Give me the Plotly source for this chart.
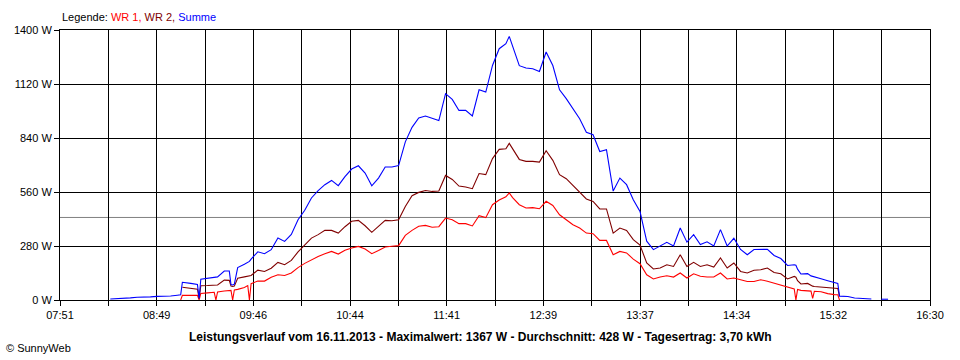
import plotly.graph_objects as go

# ---- data ----
TIMES = ["08:21","08:25","08:29","08:33","08:37","08:41","08:45","08:49","08:53","08:57",
         "09:01","09:03","09:04","09:05","09:09","09:13","09:14","09:15","09:19","09:23",
         "09:24","09:25","09:29","09:32","09:33","09:34","09:35","09:37","09:41","09:43",
         "09:44","09:45","09:49","09:53","09:57","10:01","10:05","10:09","10:13","10:17",
         "10:21","10:25","10:29","10:33","10:37","10:41","10:45","10:49","10:53","10:57",
         "11:01","11:05","11:09","11:13","11:17","11:21","11:25","11:29","11:33","11:37",
         "11:41","11:45","11:49","11:53","11:57","12:01","12:05","12:09","12:13","12:17",
         "12:19","12:21","12:25","12:29","12:33","12:37","12:41","12:45","12:49","12:53",
         "12:57","13:01","13:05","13:09","13:13","13:17","13:21","13:25","13:29","13:33",
         "13:37","13:41","13:45","13:49","13:53","13:57","14:01","14:05","14:09","14:13",
         "14:17","14:21","14:25","14:29","14:33","14:37","14:41","14:45","14:49","14:53",
         "14:57","15:01","15:05","15:09","15:10","15:11","15:13","15:17","15:19","15:20",
         "15:21","15:25","15:29","15:33","15:35","15:36","15:37","15:41","15:45","15:49",
         "15:53","15:55","15:57","16:01","16:05"]

SUMME = [5,6,8,11,14,14,16,19,19,21,
         25,27,92,90,86,80,8,108,112,116,
         118,120,150,150,80,78,82,168,185,195,
         200,212,250,240,261,322,304,340,416,465,
         529,567,598,620,593,640,679,696,658,592,
         632,690,690,697,820,895,944,954,944,930,
         1070,1040,983,983,954,1090,1078,1216,1303,1329,
         1367,1317,1215,1203,1199,1185,1286,1216,1090,1044,
         992,940,870,857,770,779,565,632,598,520,
         459,305,261,278,299,280,373,300,339,288,
         302,280,365,280,320,262,235,262,261,263,
         231,215,179,183,180,160,135,137,125,122,
         118,110,100,90,86,20,20,18,10,8,
         6,5,None,4,4]

WR1 = [None,None,None,None,None,None,None,None,None,None,
       None,0,24,24,24,24,0,34,37,40,
       0,42,47,49,50,0,52,55,65,75,
       0,85,98,98,118,131,127,140,168,190,
       209,226,240,252,238,258,270,278,264,240,
       257,275,279,282,335,361,382,387,377,380,
       425,416,396,396,384,437,427,494,518,535,
       555,531,494,477,479,473,512,490,442,418,
       390,373,347,344,309,309,235,252,244,212,
       188,131,109,119,126,119,140,114,136,123,
       119,119,140,109,114,105,96,96,105,97,
       88,79,70,57,0,55,50,48,46,8,
       45,43,33,28,27,0,None,None,None,None,
       None,None,None,None,None]

WR2 = [None,None,None,None,None,None,None,None,None,None,
       None,None,66,65,62,56,8,74,75,76,
       77,78,103,102,72,70,72,113,120,123,
       125,127,155,148,165,195,183,205,250,285,
       321,339,361,361,347,380,408,413,385,351,
       382,413,411,416,485,541,558,568,563,565,
       646,625,591,586,577,656,650,733,781,784,
       812,784,729,719,719,715,774,724,650,629,
       594,556,524,511,472,472,347,373,361,313,
       285,192,161,166,183,174,235,174,195,174,
       183,171,218,166,192,148,140,154,157,166,
       143,136,109,122,118,100,83,86,75,72,
       70,67,67,62,60,20,None,None,None,None,
       None,None,None,None,None]

AVERAGE = 428
Y_TICKS = [0, 280, 560, 840, 1120, 1400]
X_TICK_LABELS = ["07:51", "08:49", "09:46", "10:44", "11:41",
                 "12:39", "13:37", "14:34", "15:32", "16:30"]
TITLE = "Leistungsverlauf vom 16.11.2013 - Maximalwert: 1367 W - Durchschnitt: 428 W - Tagesertrag: 3,70 kWh"


def to_min(t):
    h, m = t.split(":")
    return int(h) * 60 + int(m)


x = [to_min(t) for t in TIMES]
x0 = to_min(X_TICK_LABELS[0])
x1 = to_min(X_TICK_LABELS[-1])
n_int = 2 * (len(X_TICK_LABELS) - 1)
tickvals = [x0 + i * (x1 - x0) / n_int for i in range(n_int + 1)]
ticktext = []
for i in range(n_int + 1):
    ticktext.append(X_TICK_LABELS[i // 2] if i % 2 == 0 else "")

FONT = "Liberation Sans, Arial, sans-serif"

fig = go.Figure()
fig.add_trace(go.Scatter(x=x, y=WR1, mode="lines", line=dict(color="#FF0000", width=1.1),
                         name="WR 1", connectgaps=False))
fig.add_trace(go.Scatter(x=x, y=WR2, mode="lines", line=dict(color="#800000", width=1.1),
                         name="WR 2", connectgaps=False))
fig.add_trace(go.Scatter(x=x, y=SUMME, mode="lines", line=dict(color="#0000FF", width=1.1),
                         name="Summe", connectgaps=False))

fig.add_hline(y=AVERAGE, line=dict(color="#808080", width=1), layer="below")

fig.update_layout(
    width=960, height=360,
    margin=dict(l=60, r=30, t=30, b=60),
    paper_bgcolor="white", plot_bgcolor="white",
    showlegend=False,
    font=dict(family=FONT, size=11, color="black"),
    xaxis=dict(range=[x0, x1], tickmode="array", tickvals=tickvals, ticktext=ticktext,
               showgrid=True, gridcolor="black", gridwidth=1,
               showline=True, linecolor="black", linewidth=1, mirror=True,
               ticks="outside", ticklen=5, tickcolor="black", zeroline=False,
               tickfont=dict(family=FONT, size=11)),
    yaxis=dict(range=[0, 1400], tickmode="array", tickvals=Y_TICKS,
               ticktext=[f"{v} W" for v in Y_TICKS],
               showgrid=True, gridcolor="black", gridwidth=1,
               showline=True, linecolor="black", linewidth=1, mirror=True,
               ticks="outside", ticklen=5, tickcolor="black", zeroline=False,
               tickfont=dict(family=FONT, size=11)),
)

legend_html = ("Legende: <span style='color:#FF0000'>WR 1,</span> "
               "<span style='color:#800000'>WR 2,</span> "
               "<span style='color:#0000FF'>Summe</span>")
fig.add_annotation(text=legend_html, xref="paper", yref="paper", x=0, y=1,
                   xanchor="left", yanchor="bottom", yshift=5, showarrow=False,
                   font=dict(family=FONT, size=11, color="black"))
fig.add_annotation(text="<b>" + TITLE + "</b>", xref="paper", yref="paper",
                   x=(480 - 60) / 870, y=0, xanchor="center", yanchor="middle",
                   yshift=-37, showarrow=False,
                   font=dict(family="Liberation Sans Narrow, Arial Narrow, Liberation Sans, Arial, sans-serif",
                             size=12, color="black"))
fig.add_annotation(text="© SunnyWeb", xref="paper", yref="paper", x=-56 / 870, y=0,
                   xanchor="left", yanchor="middle", yshift=-48, showarrow=False,
                   font=dict(family=FONT, size=11, color="black"))

fig.write_html("out.html", config={"displayModeBar": False},
               post_script="document.body.style.margin='0';")
